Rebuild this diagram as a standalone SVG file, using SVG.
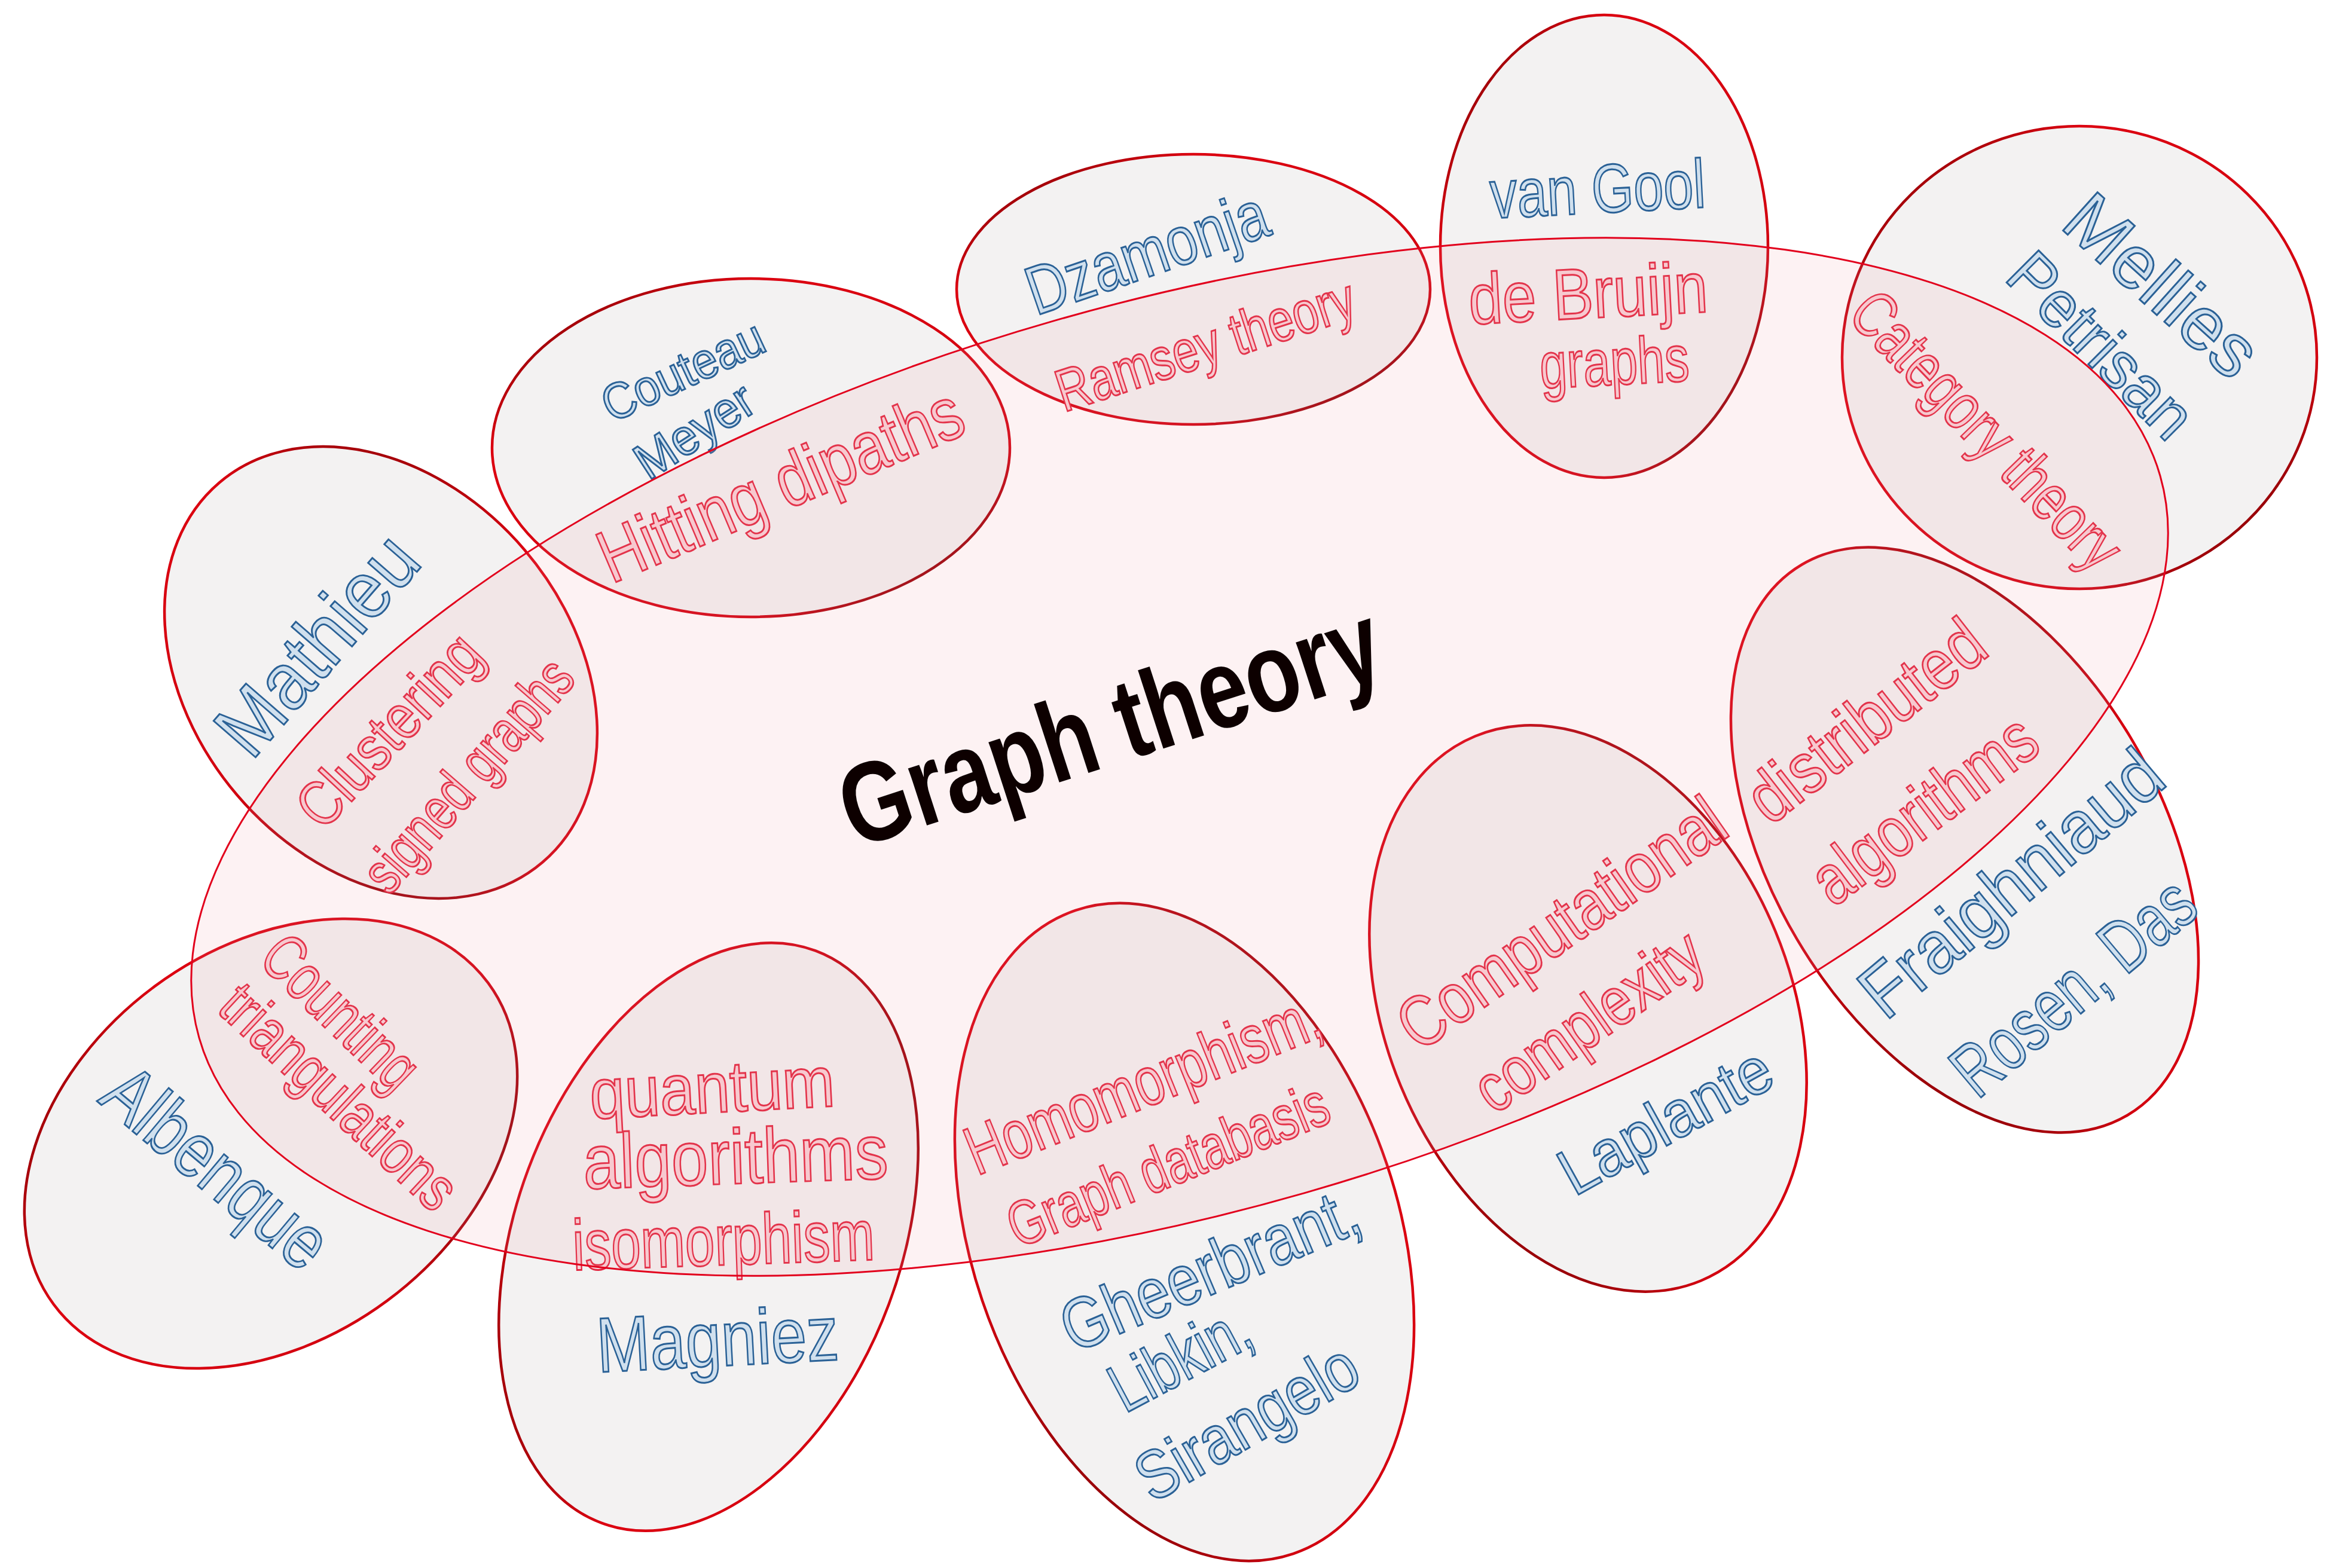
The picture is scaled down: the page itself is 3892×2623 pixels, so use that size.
<svg xmlns="http://www.w3.org/2000/svg" width="3892" height="2623" viewBox="0 0 3892 2623">
<defs>
<linearGradient id="rim" x1="0" y1="0" x2="1" y2="1">
<stop offset="0" stop-color="#5a0000"/>
<stop offset="0.25" stop-color="#dc0010"/>
<stop offset="0.75" stop-color="#d2000f"/>
<stop offset="1" stop-color="#4a0000"/>
</linearGradient>
<style>
.area{fill:#e7e5e5;fill-opacity:0.5;stroke:url(#rim);stroke-width:4.5}
.big{fill:#ee9aa6;fill-opacity:0.13;stroke:#e2001c;stroke-width:3}
text{font-family:"Liberation Sans","DejaVu Sans",sans-serif;text-anchor:middle;dominant-baseline:central}
.r{fill:#f9d0d6;stroke:#e2253f;stroke-width:3}
.b{fill:#d0e0ee;stroke:#2a6196;stroke-width:3}
.t{fill:#0d0000;font-weight:bold}
</style>
</defs>
<rect width="3892" height="2623" fill="#ffffff"/>
<g id="nodes">
<g id="node-mathieu">
<ellipse class="area" cx="637" cy="1125" rx="417" ry="316" transform="rotate(49.6 637 1125)"/>
<text class="b" font-size="135" textLength="440" lengthAdjust="spacingAndGlyphs" transform="translate(530 1078) rotate(-49)">Mathieu</text>
<text class="r" font-size="105" textLength="400" lengthAdjust="spacingAndGlyphs" transform="translate(650 1221) rotate(-47)">Clustering</text>
<text class="r" font-size="100" textLength="480" lengthAdjust="spacingAndGlyphs" transform="translate(782 1296) rotate(-49)">signed graphs</text>
</g>
<g id="node-couteau">
<ellipse class="area" cx="1256" cy="749" rx="433" ry="283"/>
<text class="b" font-size="85" textLength="290" lengthAdjust="spacingAndGlyphs" transform="translate(1142 620) rotate(-25)">Couteau</text>
<text class="b" font-size="85" textLength="220" lengthAdjust="spacingAndGlyphs" transform="translate(1161 720) rotate(-33)">Meyer</text>
<text class="r" font-size="125" textLength="650" lengthAdjust="spacingAndGlyphs" transform="translate(1305 810) rotate(-23)">Hitting dipaths</text>
</g>
<g id="node-dzamonja">
<ellipse class="area" cx="1996" cy="484" rx="396" ry="226"/>
<text class="b" font-size="115" textLength="420" lengthAdjust="spacingAndGlyphs" transform="translate(1918 422) rotate(-19)">Dzamonja</text>
<text class="r" font-size="100" textLength="520" lengthAdjust="spacingAndGlyphs" transform="translate(2016 576) rotate(-18)">Ramsey theory</text>
</g>
<g id="node-vangool">
<ellipse class="area" cx="2683" cy="412" rx="274" ry="387"/>
<text class="b" font-size="115" textLength="360" lengthAdjust="spacingAndGlyphs" transform="translate(2672 316) rotate(-3)">van Gool</text>
<text class="r" font-size="120" textLength="400" lengthAdjust="spacingAndGlyphs" transform="translate(2656 490) rotate(-3)">de Bruijn</text>
<text class="r" font-size="110" textLength="250" lengthAdjust="spacingAndGlyphs" transform="translate(2700 605) rotate(-3)">graphs</text>
</g>
<g id="node-mellies">
<ellipse class="area" cx="3478" cy="598" rx="397" ry="387"/>
<text class="b" font-size="125" textLength="390" lengthAdjust="spacingAndGlyphs" transform="translate(3617 477) rotate(42)">Mellies</text>
<text class="b" font-size="110" textLength="390" lengthAdjust="spacingAndGlyphs" transform="translate(3515 577) rotate(45)">Petrisan</text>
<text class="r" font-size="110" textLength="600" lengthAdjust="spacingAndGlyphs" transform="translate(3323 719) rotate(46)">Category theory</text>
</g>
<g id="node-distributed">
<ellipse class="area" cx="3286" cy="1405" rx="535" ry="326" transform="rotate(59.4 3286 1405)"/>
<text class="r" font-size="120" textLength="470" lengthAdjust="spacingAndGlyphs" transform="translate(3120 1205) rotate(-38)">distributed</text>
<text class="r" font-size="120" textLength="440" lengthAdjust="spacingAndGlyphs" transform="translate(3217 1353) rotate(-37)">algorithms</text>
<text class="b" font-size="125" textLength="620" lengthAdjust="spacingAndGlyphs" transform="translate(3363 1477) rotate(-40)">Fraighniaud</text>
<text class="b" font-size="125" textLength="490" lengthAdjust="spacingAndGlyphs" transform="translate(3467 1650) rotate(-40)">Rosen, Das</text>
</g>
<g id="node-complexity">
<ellipse class="area" cx="2656" cy="1687" rx="493" ry="339" transform="rotate(67.5 2656 1687)"/>
<text class="r" font-size="120" textLength="640" lengthAdjust="spacingAndGlyphs" transform="translate(2611 1544) rotate(-35)">Computational</text>
<text class="r" font-size="115" textLength="440" lengthAdjust="spacingAndGlyphs" transform="translate(2656 1707) rotate(-35)">complexity</text>
<text class="b" font-size="110" textLength="390" lengthAdjust="spacingAndGlyphs" transform="translate(2785 1874) rotate(-29)">Laplante</text>
</g>
<g id="node-homomorphism">
<ellipse class="area" cx="1981" cy="2061" rx="568" ry="357" transform="rotate(71.3 1981 2061)"/>
<text class="r" font-size="115" textLength="630" lengthAdjust="spacingAndGlyphs" transform="translate(1911 1812) rotate(-22)">Homomorphism,</text>
<text class="r" font-size="105" textLength="570" lengthAdjust="spacingAndGlyphs" transform="translate(1953 1948) rotate(-22)">Graph databasis</text>
<text class="b" font-size="120" textLength="530" lengthAdjust="spacingAndGlyphs" transform="translate(2023 2122) rotate(-23)">Gheerbrant,</text>
<text class="b" font-size="115" textLength="250" lengthAdjust="spacingAndGlyphs" transform="translate(1973 2271) rotate(-28)">Libkin,</text>
<text class="b" font-size="115" textLength="410" lengthAdjust="spacingAndGlyphs" transform="translate(2085 2378) rotate(-30)">Sirangelo</text>
</g>
<g id="node-quantum">
<ellipse class="area" cx="1185" cy="2069" rx="511" ry="322" transform="rotate(-69.5 1185 2069)"/>
<text class="r" font-size="120" textLength="410" lengthAdjust="spacingAndGlyphs" transform="translate(1191 1819) rotate(-3)">quantum</text>
<text class="r" font-size="130" textLength="510" lengthAdjust="spacingAndGlyphs" transform="translate(1230 1935) rotate(-2)">algorithms</text>
<text class="r" font-size="120" textLength="505" lengthAdjust="spacingAndGlyphs" transform="translate(1210 2074) rotate(-2)">isomorphism</text>
<text class="b" font-size="130" textLength="405" lengthAdjust="spacingAndGlyphs" transform="translate(1200 2240) rotate(-3)">Magniez</text>
</g>
<g id="node-counting">
<ellipse class="area" cx="453" cy="1913" rx="452" ry="327" transform="rotate(-36.5 453 1913)"/>
<text class="r" font-size="110" textLength="320" lengthAdjust="spacingAndGlyphs" transform="translate(571 1692) rotate(44)">Counting</text>
<text class="r" font-size="105" textLength="500" lengthAdjust="spacingAndGlyphs" transform="translate(568 1834) rotate(43)">triangulations</text>
<text class="b" font-size="130" textLength="450" lengthAdjust="spacingAndGlyphs" transform="translate(363 1952) rotate(40)">Albenque</text>
</g>
<g id="node-graph-theory">
<ellipse class="big" cx="1973" cy="1266" rx="1706" ry="759" transform="rotate(-16 1973 1266)"/>
<text class="t" font-size="190" textLength="940" lengthAdjust="spacingAndGlyphs" transform="translate(1856 1212) rotate(-18)">Graph theory</text>
</g>
</g>
</svg>
